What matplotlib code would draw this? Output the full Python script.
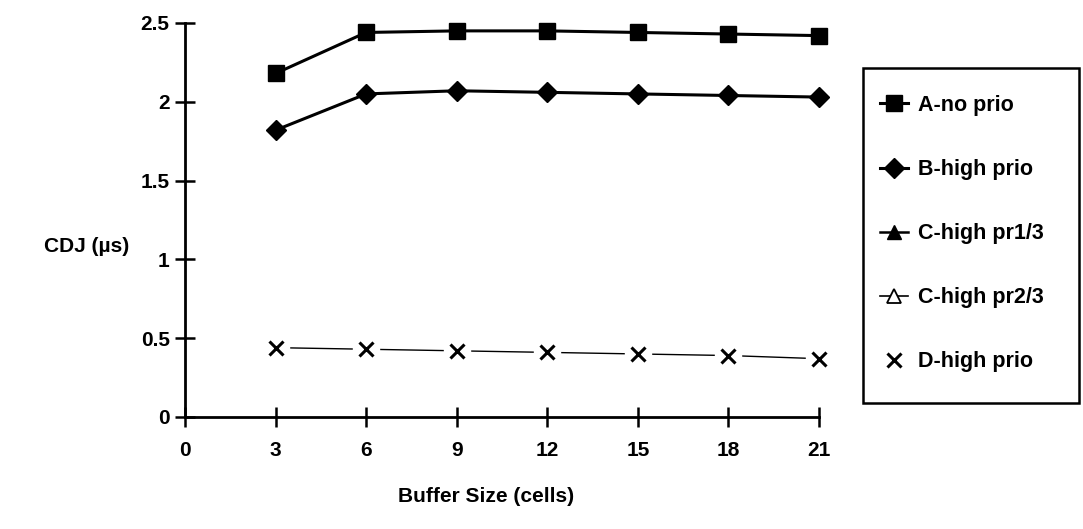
import matplotlib
matplotlib.use("Agg")
import matplotlib.pyplot as plt
from matplotlib.patches import Rectangle

plt.rcParams['font.family'] = ['Liberation Sans', 'DejaVu Sans']

buffer_sizes = [3, 6, 9, 12, 15, 18, 21]
a_no_prio = [2.18, 2.44, 2.45, 2.45, 2.44, 2.43, 2.42]
b_high_prio = [1.82, 2.05, 2.07, 2.06, 2.05, 2.04, 2.03]
c_high_pr13 = []
c_high_pr23 = []
d_high_prio = [0.44, 0.43, 0.42, 0.41, 0.40, 0.39, 0.37]

x_ticks = [0, 3, 6, 9, 12, 15, 18, 21]
y_ticks = [0, 0.5, 1, 1.5, 2, 2.5]
y_tick_labels = ["0", "0.5", "1", "1.5", "2", "2.5"]

W, H = 1083, 529
fig = plt.figure(figsize=(W / 100, H / 100), dpi=100)
ax = fig.add_axes([185 / W, 1 - 417 / H, (819 - 185) / W, (417 - 23) / H])

la, = ax.plot(buffer_sizes, a_no_prio, color='black', lw=2.2, marker='s', ms=11,
              clip_on=False, label='A-no prio')
lb, = ax.plot(buffer_sizes, b_high_prio, color='black', lw=2.2, marker='D', ms=10,
              clip_on=False, label='B-high prio')
lc1, = ax.plot(c_high_pr13, c_high_pr13, color='black', lw=1.8, marker='^', ms=10,
               label='C-high pr1/3')
lc2, = ax.plot(c_high_pr23, c_high_pr23, color='black', lw=1.2, marker='^', ms=10,
               mfc='white', mew=1.3, label='C-high pr2/3')
ax.plot(buffer_sizes, d_high_prio, color='black', lw=1.0, zorder=2, clip_on=False)
ax.plot(buffer_sizes, d_high_prio, ls='none', marker='s', ms=19, mfc='white', mec='white',
        zorder=3, clip_on=False)
ld, = ax.plot(buffer_sizes, d_high_prio, ls='none', color='black', marker='x', ms=10, mew=2.2,
              zorder=4, clip_on=False, label='D-high prio')

ax.set_xlim(0, 21)
ax.set_ylim(0, 2.5)
ax.set_xticks(x_ticks)
ax.set_xticklabels([str(t) for t in x_ticks])
ax.set_yticks(y_ticks)
ax.set_yticklabels(y_tick_labels)
for s in ['top', 'right']:
    ax.spines[s].set_visible(False)
for s in ['left', 'bottom']:
    ax.spines[s].set_linewidth(2.0)
ax.tick_params(axis='both', direction='inout', length=14, width=1.8, labelsize=15)
ax.tick_params(axis='x', pad=10)
ax.tick_params(axis='y', pad=4)
for lbl in ax.get_xticklabels() + ax.get_yticklabels():
    lbl.set_fontweight('bold')

ax.set_xlabel('Buffer Size (cells)', fontsize=15, fontweight='bold')
ax.xaxis.set_label_coords((486 - 185) / 634, -(497 - 417) / 394)
ax.xaxis.label.set_va('center')
fig.text(44 / W, 1 - 246 / H, 'CDJ (µs)', fontsize=15, fontweight='bold', va='center', ha='left')

leg = fig.legend(handles=[la, lb, lc1, lc2, ld], loc='upper left',
                 bbox_to_anchor=(880 / W, 1 - 95 / H), fontsize=15.5, frameon=False,
                 handlelength=1.3, handletextpad=0.45, labelspacing=2.0,
                 borderpad=0, borderaxespad=0)
for t in leg.get_texts():
    t.set_fontweight('bold')

fig.patches.append(Rectangle((863 / W, 1 - 403 / H), (1079 - 863) / W, (403 - 68) / H,
                             transform=fig.transFigure, fill=False, edgecolor='black',
                             linewidth=1.8))

fig.savefig('out.png', dpi=100)
